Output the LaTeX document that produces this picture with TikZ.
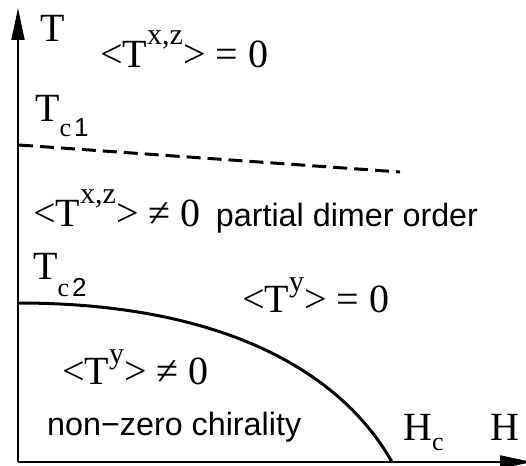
\documentclass[tikz,border=0pt]{standalone}
\usepackage{fontspec}
\setmainfont{Liberation Serif}
\setsansfont{Liberation Sans}
\usetikzlibrary{arrows.meta,positioning}
\newcommand{\supxz}[1]{\raisebox{23pt}{\fontsize{30}{30}\selectfont #1}}
\newcommand{\supy}[1]{\raisebox{21pt}{\fontsize{30}{30}\selectfont #1}}
\newcommand{\subc}[2]{\raisebox{-#1}{\fontsize{26}{26}\selectfont #2}}

\begin{document}
\begin{tikzpicture}[x=1pt, y=1pt, >={Triangle[length=32pt,width=13pt]}]
    \tikzstyle{lbl} = [anchor=base west, inner sep=0pt, font=\fontsize{40}{44}\selectfont]
    \tikzstyle{txt} = [anchor=base west, inner sep=0pt, font=\sffamily\fontsize{32.3}{36}\selectfont]
    \tikzstyle{axis} = [draw, ->, line width=2pt]
    \tikzstyle{line} = [draw, line width=3pt]

    \useasboundingbox (0,0) rectangle (526,465);
    \coordinate (origin) at (18,3);
    \coordinate (ttop) at (18,457);
    \coordinate (hend) at (532,3);
    \coordinate (tcaone) at (19,320);
    \coordinate (tcaend) at (400,293);
    \coordinate (tcatwo) at (18,162);
    \coordinate (hcpoint) at (392,3);

    \path [axis] (origin) -- (ttop);
    \path [axis] (origin) -- (hend);
    \path [line, dash pattern=on 14pt off 7pt] (tcaone) -- (tcaend);
    \path [line] (tcatwo) .. controls (220,162) and (340,95) .. (hcpoint);

    \node [lbl] (tlabel) at (40,423) {T};
    \node [lbl] (tzero) at (100,397) {<T\supxz{x,z}> = 0};
    \node [lbl] (tcone) at (35,343) {T\subc{15pt}{c\kern3pt{\sffamily 1}}};
    \node [lbl] (tnonzero) at (33,238) {<T\supxz{x,z}> ≠ 0};
    \node [txt, right=15pt of tnonzero.base east, anchor=base west] (partial) {partial dimer order};
    \node [lbl] (tctwo) at (33,185) {T\subc{17pt}{c\kern3pt{\sffamily 2}}};
    \node [lbl] (tyzero) at (242,152) {<T\supy{y}> = 0};
    \node [lbl] (tynonzero) at (62,80) {<T\supy{y}> ≠ 0};
    \node [txt] (chiral) at (47,30) {non−zero chirality};
    \node [lbl] (hclabel) at (403,25) {H\subc{10pt}{c}};
    \node [lbl] (hlabel) at (490,25) {H};
\end{tikzpicture}
\end{document}
